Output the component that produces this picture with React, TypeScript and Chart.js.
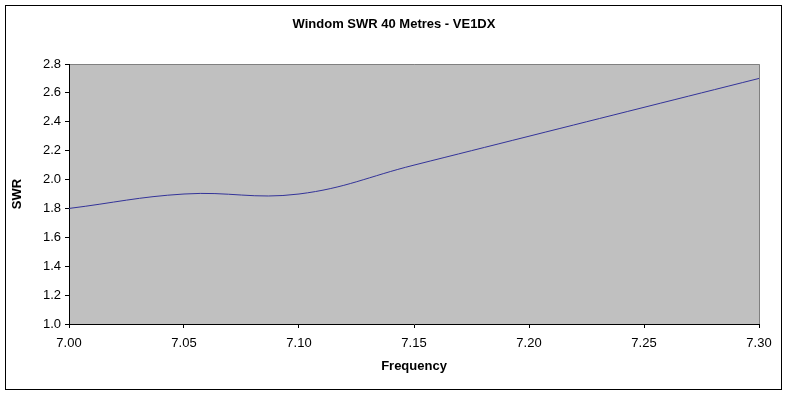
import React, { useEffect, useRef } from "react";
import { Chart, registerables } from "chart.js";

Chart.register(...registerables);

const frequencies = [7.0, 7.05, 7.1, 7.15, 7.2, 7.25, 7.3];
const swrValues = [1.8, 1.9, 1.9, 2.1, 2.3, 2.5, 2.7];
const xTicks = [7.0, 7.05, 7.1, 7.15, 7.2, 7.25, 7.3];
const yTicks = [1.0, 1.2, 1.4, 1.6, 1.8, 2.0, 2.2, 2.4, 2.6, 2.8];

const chartTitle = "Windom SWR 40 Metres - VE1DX";
const xTitle = "Frequency";
const yTitle = "SWR";

const FONT = "'Liberation Sans', Arial, sans-serif";

const backgroundPlugin = {
  id: "excelBackground",
  beforeDraw(chart: any) {
    const { ctx, chartArea, width, height } = chart;
    ctx.save();
    ctx.fillStyle = "#ffffff";
    ctx.fillRect(0, 0, width, height);
    // outer chart border
    ctx.strokeStyle = "#000000";
    ctx.lineWidth = 1;
    ctx.strokeRect(5.5, 5.5, 776, 384);
    // plot area fill
    const { left, top, right, bottom } = chartArea;
    ctx.fillStyle = "#C0C0C0";
    ctx.fillRect(left, top, right - left + 1, bottom - top);
    // plot area border (top and right)
    ctx.strokeStyle = "#808080";
    ctx.beginPath();
    ctx.moveTo(left, top + 0.5);
    ctx.lineTo(right + 0.5, top + 0.5);
    ctx.lineTo(right + 0.5, bottom);
    ctx.stroke();
    ctx.restore();
  },
};

export default function App() {
  const canvasRef = useRef<HTMLCanvasElement | null>(null);

  useEffect(() => {
    if (!canvasRef.current) return;
    const chart = new Chart(canvasRef.current, {
      type: "line",
      data: {
        datasets: [
          {
            label: "SWR",
            data: frequencies.map((f, i) => ({ x: f, y: swrValues[i] })),
            borderColor: "#333399",
            borderWidth: 1,
            pointRadius: 0,
            tension: 0.4,
            fill: false,
          },
        ],
      },
      options: {
        animation: false,
        responsive: false,
        events: [],
        layout: { padding: { left: 5, right: 5, top: 0, bottom: 0 } },
        plugins: {
          legend: { display: false },
          tooltip: { enabled: false },
          title: {
            display: true,
            text: chartTitle,
            color: "#000000",
            font: { family: FONT, size: 13, weight: "bold" },
            padding: { top: 16.5, bottom: 31.9 },
          },
        },
        scales: {
          x: {
            type: "linear",
            min: 7.0,
            max: 7.3,
            afterBuildTicks: (scale: any) => {
              scale.ticks = xTicks.map((v) => ({ value: v }));
            },
            afterFit: (scale: any) => {
              scale.height = 70;
            },
            grid: {
              display: true,
              drawOnChartArea: false,
              drawTicks: true,
              tickLength: 4,
              color: "#000000",
            },
            border: { display: true, color: "#000000", width: 1 },
            ticks: {
              color: "#000000",
              font: { family: FONT, size: 13 },
              padding: 8,
              maxRotation: 0,
              autoSkip: false,
              callback: (v: any) => Number(v).toFixed(2),
            },
            title: {
              display: true,
              text: xTitle,
              color: "#000000",
              font: { family: FONT, size: 13, weight: "bold" },
              padding: { top: 0, bottom: 19.7 },
            },
          },
          y: {
            type: "linear",
            position: "left",
            min: 1.0,
            max: 2.8,
            afterBuildTicks: (scale: any) => {
              scale.ticks = yTicks.map((v) => ({ value: v }));
            },
            afterFit: (scale: any) => {
              scale.width = 64;
            },
            grid: {
              display: true,
              drawOnChartArea: false,
              drawTicks: true,
              tickLength: 4,
              color: "#000000",
            },
            border: { display: true, color: "#000000", width: 1 },
            ticks: {
              color: "#000000",
              font: { family: FONT, size: 13 },
              padding: 4,
              autoSkip: false,
              callback: (v: any) => Number(v).toFixed(1),
            },
            title: {
              display: true,
              text: yTitle,
              color: "#000000",
              font: { family: FONT, size: 13, weight: "bold" },
              padding: { top: 5, bottom: 0 },
            },
          },
          y2: {
            type: "linear",
            position: "right",
            min: 0,
            max: 1,
            display: true,
            afterFit: (scale: any) => {
              scale.width = 24;
            },
            grid: { display: false, drawTicks: false },
            border: { display: false },
            ticks: { display: false },
            title: { display: false },
          },
        },
      },
      plugins: [backgroundPlugin],
    });
    return () => chart.destroy();
  }, []);

  return (
    <div style={{ position: "absolute", left: 0, top: 0, width: 788, height: 394 }}>
      <canvas ref={canvasRef} width={788} height={394} />
    </div>
  );
}
